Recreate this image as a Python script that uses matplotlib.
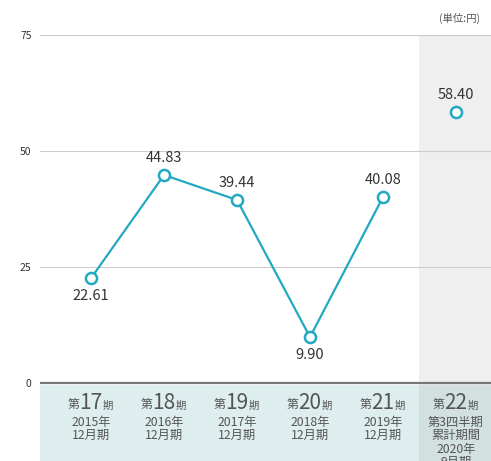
import matplotlib.pyplot as plt

plt.rcParams['font.family'] = ['Noto Sans CJK JP', 'DejaVu Sans']

# data
periods = ['17', '18', '19', '20', '21', '22']
sub_labels = [['2015年', '12月期'], ['2016年', '12月期'], ['2017年', '12月期'],
              ['2018年', '12月期'], ['2019年', '12月期'],
              ['第3四半期', '累計期間', '2020年', '9月期']]
values = [22.61, 44.83, 39.44, 9.90, 40.08, 58.40]
label_above = [False, True, True, False, True, True]
yticks = [0, 25, 50, 75]

line_col = '#22a9c2'
text_col = '#333333'

fig = plt.figure(figsize=(4.91, 4.61), dpi=100)
ax = fig.add_axes([40 / 491, 0, 451 / 491, (461 - 35) / 461])

ymin = -(461 - 383) / 116 * 25
ax.set_ylim(ymin, 75)
ax.set_xlim(-0.7, 5.48)

# shaded band for latest period
ax.axvspan(4.5, 5.48, color='#efefef', zorder=0, lw=0)
# label band under the axis
ax.axhspan(ymin, -0.4, color='#deedee', zorder=0.5, lw=0)
ax.fill_between([4.5, 5.48], ymin, -0.4, color='#d2e0e0', zorder=0.6, lw=0)

for t in yticks[1:]:
    ax.axhline(t, color='#cccccc', lw=0.8, zorder=1)
ax.axhline(0, color='#777777', lw=1.6, zorder=2)

xs = list(range(len(values)))
ax.plot(xs[:5], values[:5], color=line_col, lw=1.6, zorder=3)
ax.plot(xs, values, 'o', ms=8, mfc='white', mec=line_col, mew=1.8, zorder=4, ls='none')

for x, v, up in zip(xs, values, label_above):
    ax.annotate(f'{v:.2f}', (x, v), xytext=(0, 12 if up else -13),
                textcoords='offset points', ha='center', va='center',
                fontsize=10.5, color=text_col)

for s in ax.spines.values():
    s.set_visible(False)
ax.set_xticks([])
ax.set_yticks(yticks)
ax.set_yticklabels([str(t) for t in yticks], fontsize=7.5, color=text_col)
ax.tick_params(axis='y', length=0, pad=6)

# category labels
for x, num, subs in zip(xs, periods, sub_labels):
    t = ax.annotate(num, (x, -1.9), xytext=(0, 0), textcoords='offset points',
                    ha='center', va='top', fontsize=15, color='#555555')
    ax.annotate('第', xy=(0, 0.12), xycoords=t, ha='right', va='bottom',
                fontsize=8.5, color='#555555')
    ax.annotate('期', xy=(1, 0.12), xycoords=t, ha='left', va='bottom',
                fontsize=7.5, color='#555555')
    for i, s in enumerate(subs):
        ax.annotate(s, (x, -2.2), xytext=(0, -16.5 - i * 9.5), textcoords='offset points',
                    ha='center', va='top', fontsize=8.8, color='#555555',
                    annotation_clip=False)

fig.text(460 / 491, 1 - 18 / 461, '(単位:円)', ha='center', va='center',
         fontsize=7.5, color='#555555')

fig.savefig('out.png', dpi=100)
